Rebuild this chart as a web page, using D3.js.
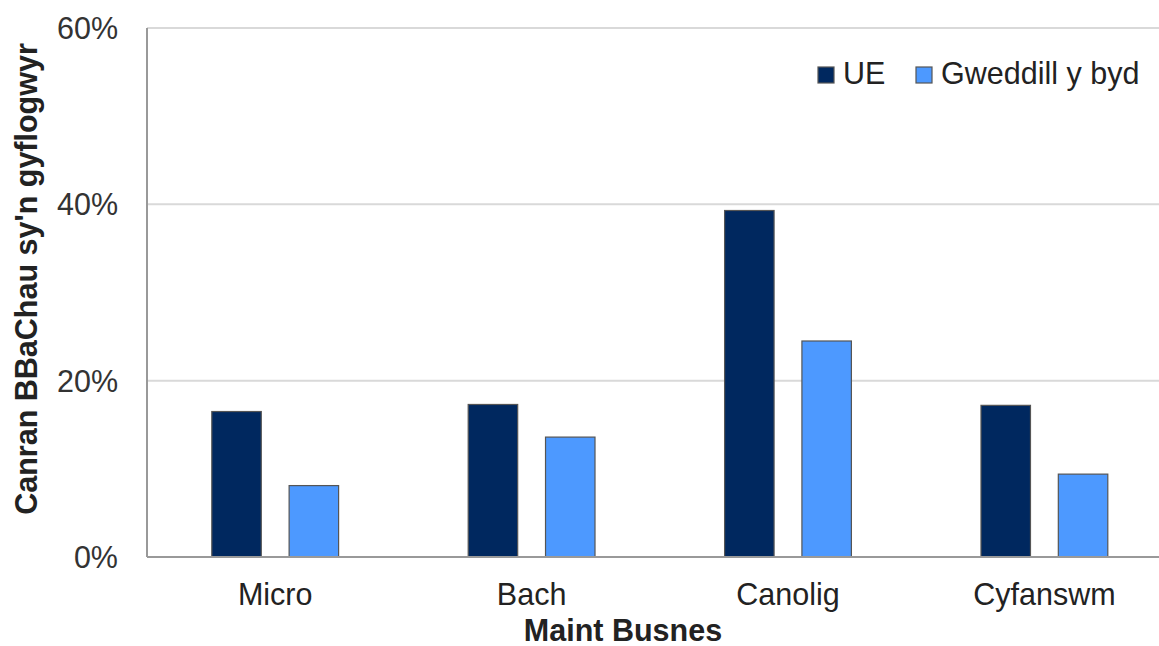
<!DOCTYPE html>
<html><head><meta charset="utf-8">
<script src="https://cdn.jsdelivr.net/npm/d3@7"></script>
<style>body{margin:0;background:#fff}svg{display:block}text{font-family:"Liberation Sans",Arial,sans-serif;fill:#222}</style>
</head><body>
<svg id="c" width="1159" height="646"></svg>
<script>
const categories = ["Micro", "Bach", "Canolig", "Cyfanswm"];
const seriesNames = ["UE", "Gweddill y byd"];
const ueValues = [16.5, 17.3, 39.3, 17.2];
const restValues = [8.1, 13.6, 24.5, 9.4];
const yTicks = [0, 20, 40, 60];
const yTickLabels = ["0%", "20%", "40%", "60%"];
const colors = ["#00285f", "#4d99ff"];

const svg = d3.select("#c");
const L = 147, R = 1172.6, T = 28, B = 557;
const FS = 30.5;
const x0 = d3.scaleBand().domain(categories).range([L, R]).padding(0);
const x1 = d3.scaleBand().domain(seriesNames).range([0, x0.bandwidth()]).paddingInner(0.36).paddingOuter(0.838);
const y = d3.scaleLinear().domain([0, 60]).range([B, T]);

// gridlines
svg.append("g").selectAll("line").data(yTicks.filter(d => d > 0)).join("line")
  .attr("x1", L).attr("x2", R).attr("y1", d => y(d)).attr("y2", d => y(d))
  .attr("stroke", "#d9d9d9").attr("stroke-width", 2);

// bars
const data = categories.map((c, i) => ({c, vals: [ueValues[i], restValues[i]]}));
const g = svg.append("g").selectAll("g").data(data).join("g")
  .attr("transform", d => `translate(${x0(d.c)},0)`);
g.selectAll("rect").data(d => d.vals.map((v, j) => ({s: seriesNames[j], v, j}))).join("rect")
  .attr("x", d => x1(d.s)).attr("width", x1.bandwidth())
  .attr("y", d => y(d.v)).attr("height", d => B - y(d.v))
  .attr("fill", d => colors[d.j]).attr("stroke", "#555").attr("stroke-width", 1.2);

// axes lines
svg.append("line").attr("x1", L).attr("x2", L).attr("y1", T).attr("y2", B).attr("stroke", "#999").attr("stroke-width", 2);
svg.append("line").attr("x1", L).attr("x2", R).attr("y1", B).attr("y2", B).attr("stroke", "#999").attr("stroke-width", 2);

// y tick labels
svg.append("g").selectAll("text").data(yTicks).join("text")
  .attr("x", 118).attr("y", d => y(d)).attr("dy", "0.36em")
  .attr("text-anchor", "end").attr("font-size", FS).style("fill", "#333").text((d, i) => yTickLabels[i]);

// x category labels
svg.append("g").selectAll("text").data(categories).join("text")
  .attr("x", d => x0(d) + x1("UE") + (x1("Gweddill y byd") + x1.bandwidth() - x1("UE")) / 2)
  .attr("y", 605).attr("text-anchor", "middle").attr("font-size", FS).text(d => d);

// axis titles
svg.append("text").attr("x", 623).attr("y", 641).attr("text-anchor", "middle")
  .attr("font-size", FS).attr("font-weight", "bold").text("Maint Busnes");
svg.append("text").attr("transform", "translate(37,279) rotate(-90)").attr("text-anchor", "middle")
  .attr("font-size", FS).attr("font-weight", "bold").text("Canran BBaChau sy'n gyflogwyr");

// legend
const legX = [818, 916];
const lg = svg.append("g").selectAll("g").data(seriesNames).join("g")
  .attr("transform", (d, i) => `translate(${legX[i]},67)`);
lg.append("rect").attr("width", 16).attr("height", 16).attr("fill", (d, i) => colors[i]).attr("stroke", "#555").attr("stroke-width", 1.2);
lg.append("text").attr("x", 25).attr("y", 17).attr("font-size", FS).text(d => d);
</script>
</body></html>
